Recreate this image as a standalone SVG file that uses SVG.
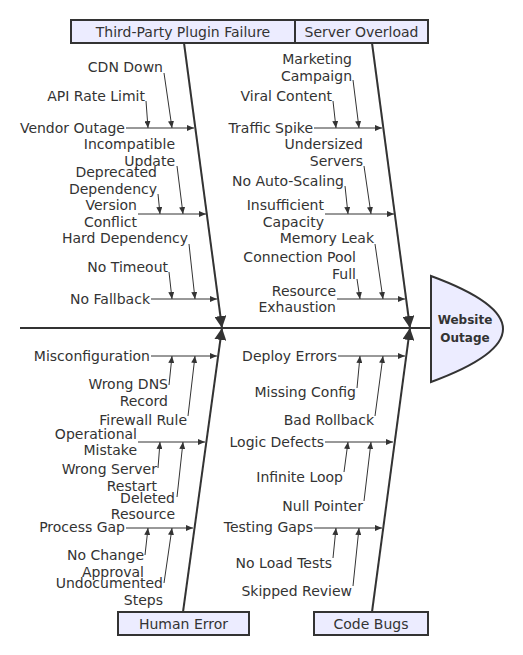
<svg xmlns="http://www.w3.org/2000/svg" width="523" height="655" viewBox="0 0 523 655">
<style>
.bg{fill:#ffffff}
.box{fill:#ECECFF;stroke:#333333;stroke-width:2}
.cat{font-family:"DejaVu Sans",Verdana,sans-serif;font-size:14px;fill:#333333;text-anchor:middle;dominant-baseline:central}
.lbl{font-family:"DejaVu Sans",Verdana,sans-serif;font-size:14px;fill:#333333;text-anchor:end;dominant-baseline:central}
.head{font-family:"DejaVu Sans",Verdana,sans-serif;font-size:12px;font-weight:bold;fill:#333333;text-anchor:middle;dominant-baseline:central}
.spine{stroke:#333333;stroke-width:2;fill:none}
.bone{stroke:#333333;stroke-width:2;fill:none;marker-end:url(#big)}
.br{stroke:#333333;stroke-width:1;fill:none;marker-end:url(#small)}
</style>
<defs>
<marker id="big" viewBox="0 0 12 12" refX="12" refY="6" markerWidth="12" markerHeight="12" markerUnits="userSpaceOnUse" orient="auto">
<path d="M0,0 L12,6 L0,12 z" fill="#333333"/>
</marker>
<marker id="small" viewBox="0 0 7 6" refX="7" refY="3" markerWidth="7" markerHeight="6" markerUnits="userSpaceOnUse" orient="auto">
<path d="M0,0 L7,3 L0,6 z" fill="#333333"/>
</marker>
</defs>
<rect class="bg" x="0" y="0" width="523" height="655"/>

<g id="connectors">
<line class="spine" x1="20" y1="328" x2="431" y2="328"/>
<line class="bone" x1="184" y1="43" x2="222" y2="328"/>
<line class="bone" x1="372" y1="43" x2="410" y2="328"/>
<line class="bone" x1="183" y1="612" x2="222" y2="328"/>
<line class="bone" x1="372" y1="612" x2="410" y2="328"/>

<line class="br" x1="126" y1="128" x2="194" y2="128"/>
<line class="br" x1="164" y1="73" x2="172" y2="128"/>
<line class="br" x1="146" y1="101" x2="148" y2="128"/>
<line class="br" x1="138" y1="214" x2="206" y2="214"/>
<line class="br" x1="177" y1="166" x2="183" y2="214"/>
<line class="br" x1="158" y1="194" x2="160" y2="214"/>
<line class="br" x1="151" y1="299" x2="217" y2="299"/>
<line class="br" x1="189" y1="244" x2="195" y2="299"/>
<line class="br" x1="169" y1="272" x2="172" y2="299"/>

<line class="br" x1="314" y1="128" x2="382" y2="128"/>
<line class="br" x1="353" y1="80" x2="359" y2="128"/>
<line class="br" x1="333" y1="101" x2="336" y2="128"/>
<line class="br" x1="325" y1="214" x2="394" y2="214"/>
<line class="br" x1="364" y1="166" x2="371" y2="214"/>
<line class="br" x1="345" y1="186" x2="348" y2="214"/>
<line class="br" x1="337" y1="299" x2="405" y2="299"/>
<line class="br" x1="375" y1="244" x2="383" y2="299"/>
<line class="br" x1="357" y1="279" x2="360" y2="299"/>

<line class="br" x1="151" y1="356" x2="217" y2="356"/>
<line class="br" x1="169" y1="385" x2="172" y2="356"/>
<line class="br" x1="188" y1="416" x2="195" y2="356"/>
<line class="br" x1="138" y1="442" x2="205" y2="442"/>
<line class="br" x1="158" y1="468" x2="160" y2="442"/>
<line class="br" x1="177" y1="497" x2="183" y2="442"/>
<line class="br" x1="126" y1="528" x2="193" y2="528"/>
<line class="br" x1="145" y1="555" x2="148" y2="528"/>
<line class="br" x1="164" y1="583" x2="172" y2="528"/>

<line class="br" x1="338" y1="356" x2="405" y2="356"/>
<line class="br" x1="357" y1="388" x2="360" y2="356"/>
<line class="br" x1="375" y1="416" x2="383" y2="356"/>
<line class="br" x1="325" y1="442" x2="393" y2="442"/>
<line class="br" x1="344" y1="472" x2="348" y2="442"/>
<line class="br" x1="364" y1="501" x2="371" y2="442"/>
<line class="br" x1="314" y1="528" x2="382" y2="528"/>
<line class="br" x1="333" y1="558" x2="336" y2="528"/>
<line class="br" x1="353" y1="586" x2="359" y2="528"/>
</g>

<g id="head">
<path d="M431,276 Q575,329 431,382 Z" class="box"/>
<text class="head" x="465" y="320">Website</text>
<text class="head" x="465" y="338">Outage</text>
</g>

<g id="cat-plugin">
<rect class="box" x="71" y="20" width="224" height="23"/>
<text class="cat" x="183" y="31.5">Third-Party Plugin Failure</text>
</g>
<g id="cat-server">
<rect class="box" x="295" y="20" width="133" height="23"/>
<text class="cat" x="361.5" y="31.5">Server Overload</text>
</g>
<g id="cat-human">
<rect class="box" x="118" y="612" width="131" height="23"/>
<text class="cat" x="183.5" y="623.5">Human Error</text>
</g>
<g id="cat-code">
<rect class="box" x="314" y="612" width="114" height="23"/>
<text class="cat" x="371" y="623.5">Code Bugs</text>
</g>

<g id="plugin-causes">
<text class="lbl" x="125" y="128">Vendor Outage</text>
<text class="lbl" x="163" y="67">CDN Down</text>
<text class="lbl" x="145" y="96">API Rate Limit</text>
<text class="lbl" x="137" y="205">Version</text>
<text class="lbl" x="137" y="222">Conflict</text>
<text class="lbl" x="175" y="144">Incompatible</text>
<text class="lbl" x="175" y="161">Update</text>
<text class="lbl" x="157" y="172">Deprecated</text>
<text class="lbl" x="157" y="189">Dependency</text>
<text class="lbl" x="150" y="299">No Fallback</text>
<text class="lbl" x="188" y="238">Hard Dependency</text>
<text class="lbl" x="168" y="267">No Timeout</text>
</g>

<g id="server-causes">
<text class="lbl" x="313" y="128">Traffic Spike</text>
<text class="lbl" x="352" y="59">Marketing</text>
<text class="lbl" x="352" y="76">Campaign</text>
<text class="lbl" x="332" y="96">Viral Content</text>
<text class="lbl" x="324" y="205">Insufficient</text>
<text class="lbl" x="324" y="222">Capacity</text>
<text class="lbl" x="363" y="144">Undersized</text>
<text class="lbl" x="363" y="161">Servers</text>
<text class="lbl" x="344" y="181">No Auto-Scaling</text>
<text class="lbl" x="336" y="291">Resource</text>
<text class="lbl" x="336" y="307">Exhaustion</text>
<text class="lbl" x="374" y="238">Memory Leak</text>
<text class="lbl" x="356" y="257">Connection Pool</text>
<text class="lbl" x="356" y="274">Full</text>
</g>

<g id="human-causes">
<text class="lbl" x="150" y="356">Misconfiguration</text>
<text class="lbl" x="168" y="384">Wrong DNS</text>
<text class="lbl" x="168" y="401">Record</text>
<text class="lbl" x="187" y="420">Firewall Rule</text>
<text class="lbl" x="137" y="434">Operational</text>
<text class="lbl" x="137" y="450">Mistake</text>
<text class="lbl" x="157" y="469">Wrong Server</text>
<text class="lbl" x="157" y="486">Restart</text>
<text class="lbl" x="175" y="498">Deleted</text>
<text class="lbl" x="175" y="514">Resource</text>
<text class="lbl" x="125" y="527">Process Gap</text>
<text class="lbl" x="144" y="555">No Change</text>
<text class="lbl" x="144" y="572">Approval</text>
<text class="lbl" x="163" y="583">Undocumented</text>
<text class="lbl" x="163" y="600">Steps</text>
</g>

<g id="code-causes">
<text class="lbl" x="337" y="356">Deploy Errors</text>
<text class="lbl" x="356" y="392">Missing Config</text>
<text class="lbl" x="374" y="420">Bad Rollback</text>
<text class="lbl" x="324" y="442">Logic Defects</text>
<text class="lbl" x="343" y="477">Infinite Loop</text>
<text class="lbl" x="363" y="506">Null Pointer</text>
<text class="lbl" x="313" y="527">Testing Gaps</text>
<text class="lbl" x="332" y="563">No Load Tests</text>
<text class="lbl" x="352" y="591">Skipped Review</text>
</g>
</svg>
